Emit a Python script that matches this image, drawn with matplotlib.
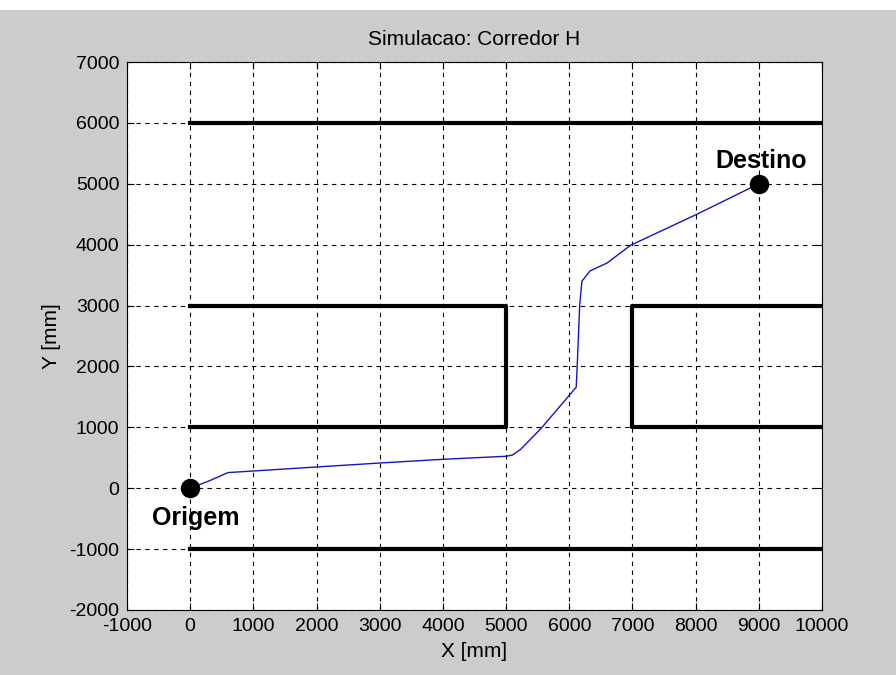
import matplotlib.pyplot as plt
from matplotlib.patches import Rectangle

# trajetoria do robo
path_x = [0, 300, 600, 1000, 2000, 3000, 4000, 5000, 5100, 5230, 5550, 6020, 6110,
          6125, 6165, 6200, 6330, 6600, 6970, 8020, 9000]
path_y = [0, 120, 257, 283, 349, 414, 475, 525, 545, 638, 977, 1550, 1660,
          1985, 3000, 3400, 3570, 3700, 3990, 4500, 5000]

# paredes do corredor H
walls = [
    ([0, 10000], [6000, 6000]),
    ([0, 10000], [-1000, -1000]),
    ([0, 5000, 5000, 0], [3000, 3000, 1000, 1000]),
    ([10000, 7000, 7000, 10000], [3000, 3000, 1000, 1000]),
]

origem = (0, 0)
destino = (9000, 5000)

xticks = list(range(-1000, 10001, 1000))
yticks = list(range(-2000, 7001, 1000))

plt.rcParams['font.family'] = ['Liberation Sans', 'DejaVu Sans']
plt.rcParams['axes.unicode_minus'] = False

fig = plt.figure(figsize=(8.96, 6.75), dpi=100, facecolor='#cccccc')
fig.patches.append(Rectangle((0, 1 - 10 / 675), 1, 10 / 675, transform=fig.transFigure,
                             facecolor='white', edgecolor='none', zorder=0))
ax = fig.add_axes([0.1417, 0.0963, 0.7757, 0.8118])

for wx, wy in walls:
    ax.plot(wx, wy, color='black', linewidth=3, zorder=3)

ax.plot(path_x, path_y, color='#1414c8', linewidth=1.0, zorder=4)
ax.plot(*origem, 'o', color='black', markersize=13, zorder=5)
ax.plot(*destino, 'o', color='black', markersize=13, zorder=5)
ax.text(95, -600, 'Origem', fontsize=18, fontweight='bold', ha='center', va='baseline')
ax.text(9030, 5260, 'Destino', fontsize=18, fontweight='bold', ha='center', va='baseline')

ax.set_xlim(-1000, 10000)
ax.set_ylim(-2000, 7000)
ax.set_xticks(xticks)
ax.set_yticks(yticks)
ax.tick_params(direction='in', length=5, labelsize=14, top=True, right=True, pad=5.5)
ax.grid(True, color='black', linestyle=(0, (4, 4)), linewidth=0.8)
ax.set_axisbelow(True)
ax.set_xlabel('X [mm]', fontsize=15, labelpad=5)
ax.set_ylabel('Y [mm]', fontsize=15, labelpad=6)
ax.set_title('Simulacao: Corredor H', fontsize=15, pad=12)

plt.savefig('out.png', dpi=100, facecolor=fig.get_facecolor())
